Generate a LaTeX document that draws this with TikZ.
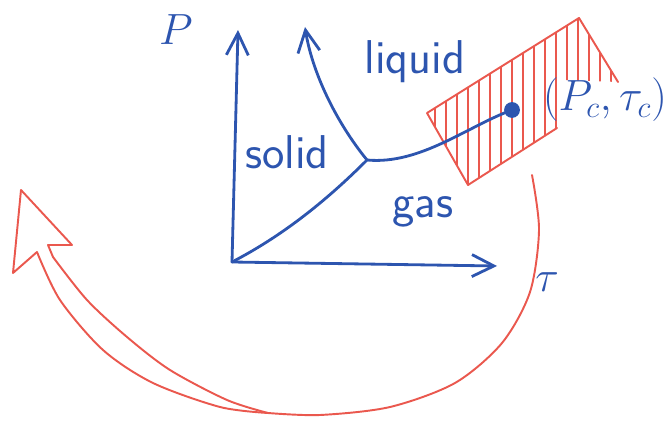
\documentclass[tikz,border=0pt]{standalone}
\usepackage{tikz}
\usetikzlibrary{arrows.meta}
\definecolor{ink}{RGB}{45,85,175}
\definecolor{pen}{RGB}{234,88,78}

\begin{document}
\begin{tikzpicture}[x=0.02cm,y=-0.02cm,
  inkline/.style={ink,line width=1.6pt,line cap=round,line join=round},
  penline/.style={pen,line width=1.1pt,line cap=round,line join=round},
  lbl/.style={ink,font=\sffamily\fontsize{27}{31}\selectfont},
  barb/.style={-{Straight Barb[length=4.4mm,width=4.4mm,line width=1.6pt]}}]
  \useasboundingbox (0,0) rectangle (668,421);

  \coordinate (O) at (232,262);
  \coordinate (T) at (367,160);
  \coordinate (Ptop) at (238,30);
  \coordinate (Tend) at (497,266);
  \coordinate (Mtop) at (305,27);

  % hatched region round the critical point
  \coordinate (A) at (427,113);
  \coordinate (B) at (579,18);
  \coordinate (Cr) at (618,82);
  \coordinate (D) at (468,185);
  \coordinate (E) at (557,128);
  \begin{scope}
    \clip (A) -- (B) -- (Cr) -- (563,80) -- (E) -- (D) -- cycle;
    \foreach \x in {435,446,...,615}
      \draw[penline,line width=1pt] (\x,0) -- (\x,200);
  \end{scope}
  \draw[penline] (D) -- (A) -- (B) -- (Cr);
  \draw[penline] (D) -- (E);

  % axes
  \draw[inkline,barb] (O) -- (Ptop);
  \draw[inkline,barb] (O) -- (Tend);

  % phase lines
  \draw[inkline] (O) .. controls (290,232) and (335,192) .. (T);
  \draw[inkline,barb] (T) .. controls (336,122) and (312,72) .. (Mtop);
  \node[circle,fill=ink,inner sep=0pt,minimum size=9pt] (C) at (512,110) {};
  \draw[inkline] (T) .. controls (420,165) and (468,126) .. (C.center);

  % labels
  \node[lbl,font=\fontsize{30}{34}\selectfont] (nP) at (176,30) {$P$};
  \node[lbl,font=\fontsize{34}{38}\selectfont] (ntau) at (547,282) {$\tau$};
  \node[lbl] (nsolid) at (287,152) {solid};
  \node[lbl] (nliquid) at (415,62) {liquid};
  \node[lbl] (ngas) at (423,212) {gas};
  \node[lbl,anchor=west,font=\fontsize{25}{29}\selectfont] (ncrit) at (537,100) {$(P_c,\tau_c)$};

  % big hollow arrow
  \draw[penline] plot[smooth] coordinates {(532,175) (539,230) (530,292) (502,343)
    (455,383) (390,407) (320,415) (268,413)};
  \draw[penline] plot[smooth] coordinates {(268,413) (220,407) (153,383) (103,350)
    (60,300) (37,252)};
  \draw[penline] plot[smooth] coordinates {(268,413) (227,400) (170,370) (127,337)
    (87,300) (53,257)};
  \draw[penline] (37,252) -- (13,273) -- (21,190) -- (72,245) -- (48,245) -- (53,257);
\end{tikzpicture}
\end{document}
